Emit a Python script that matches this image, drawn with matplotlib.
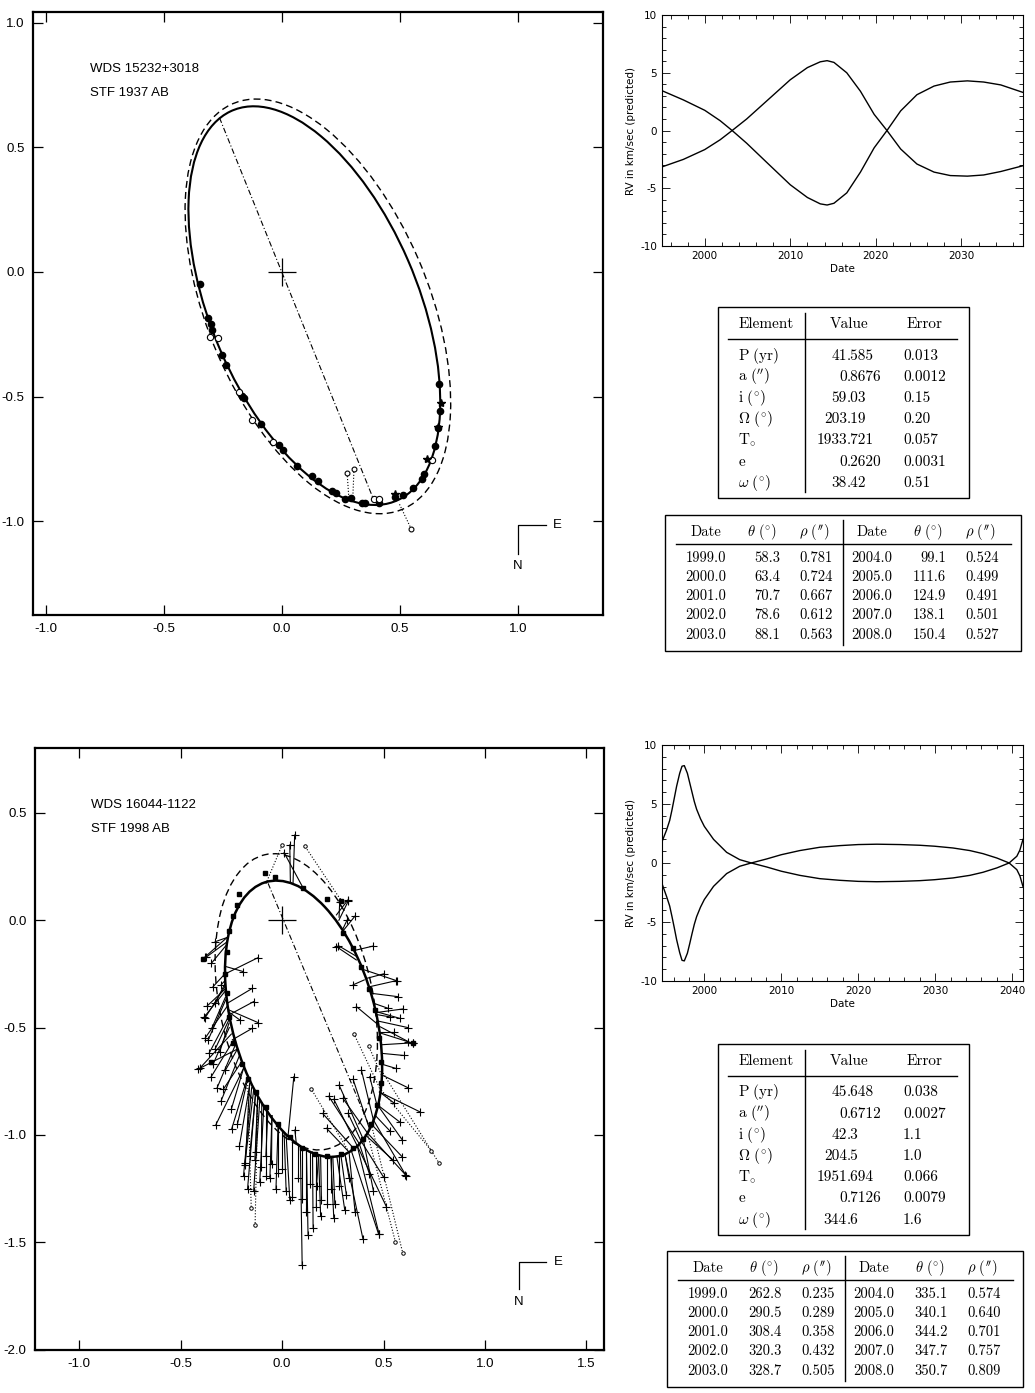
import numpy as np
import matplotlib.pyplot as plt
from matplotlib.patches import Ellipse, Rectangle
from matplotlib.ticker import MultipleLocator, FormatStrFormatter

plt.rcParams['font.family'] = ['Liberation Sans', 'DejaVu Sans']
plt.rcParams['mathtext.fontset'] = 'cm'
plt.rcParams['axes.unicode_minus'] = False

# ---------------- STF 1937 AB ----------------
wds1 = "WDS 15232+3018"
name1 = "STF 1937 AB"
# apparent ellipses: centre x, centre y, major, minor, angle
orb1_new = (0.137, -0.135, 1.713, 0.873, -65.4)
orb1_old = (0.152, -0.138, 1.779, 0.932, -65.4)
nodes1_x = [-0.265, 0.389]
nodes1_y = [0.619, -0.915]

t_dot_x = [-0.348, -0.315, -0.302, -0.296, -0.256, -0.236, -0.168, -0.160, -0.087, -0.013,
           0.003, 0.065, 0.129, 0.154, 0.213, 0.229, 0.268, 0.291, 0.338, 0.350,
           0.410, 0.477, 0.511, 0.556, 0.595, 0.603, 0.648, 0.660, 0.668, 0.665]
t_dot_y = [-0.050, -0.183, -0.208, -0.233, -0.333, -0.374, -0.496, -0.505, -0.611, -0.694,
           -0.715, -0.777, -0.820, -0.840, -0.877, -0.885, -0.910, -0.907, -0.927, -0.928,
           -0.928, -0.902, -0.894, -0.865, -0.832, -0.812, -0.699, -0.624, -0.557, -0.449]
t_open_x = [-0.273, -0.305, -0.181, -0.127, -0.039, 0.389, 0.410, 0.637]
t_open_y = [-0.266, -0.261, -0.483, -0.594, -0.682, -0.912, -0.912, -0.754]
t_star_x = [0.615, 0.673, 0.663, 0.480]
t_star_y = [-0.749, -0.524, -0.620, -0.890]
t_out_x = [0.276, 0.305, 0.548]
t_out_y = [-0.807, -0.790, -1.032]
t_outfit_x = [0.283, 0.300, 0.497]
t_outfit_y = [-0.905, -0.905, -0.930]

rv1_year = [1995.0, 1997.5, 2000.0, 2001.8, 2003.2, 2004.9, 2007.3, 2010.0, 2012.0, 2013.5,
            2014.3, 2015.1, 2016.6, 2018.2, 2019.8, 2021.3, 2022.9, 2024.8, 2026.8, 2028.7,
            2030.7, 2032.6, 2034.6, 2037.2]
rv1_a = [-3.15, -2.5, -1.65, -0.8, 0.0, 1.0, 2.6, 4.4, 5.45, 5.95,
         6.05, 5.9, 5.0, 3.4, 1.4, 0.0, -1.6, -2.9, -3.6, -3.9,
         -3.95, -3.85, -3.55, -3.05]
rv1_b = [3.45, 2.65, 1.75, 0.85, 0.0, -1.1, -2.8, -4.7, -5.8, -6.35,
         -6.45, -6.3, -5.4, -3.6, -1.5, 0.0, 1.7, 3.1, 3.85, 4.2,
         4.3, 4.2, 3.95, 3.3]

elem1_val = ['41.585', '0.8676', '59.03', '203.19', '1933.721', '0.2620', '38.42']
elem1_err = ['0.013', '0.0012', '0.15', '0.20', '0.057', '0.0031', '0.51']
eph1_date = ['1999.0', '2000.0', '2001.0', '2002.0', '2003.0',
             '2004.0', '2005.0', '2006.0', '2007.0', '2008.0']
eph1_theta = ['58.3', '63.4', '70.7', '78.6', '88.1', '99.1', '111.6', '124.9', '138.1', '150.4']
eph1_rho = ['0.781', '0.724', '0.667', '0.612', '0.563', '0.524', '0.499', '0.491', '0.501', '0.527']

# ---------------- STF 1998 AB ----------------
wds2 = "WDS 16044-1122"
name2 = "STF 1998 AB"
orb2_new = (0.106, -0.459, 1.327, 0.705, -73.4)
orb2_old = (0.070, -0.380, 1.405, 0.756, -77.2)
nodes2_x = [-0.069, 0.43]
nodes2_y = [0.172, -0.96]

b_obs_x = [0.062, 0.038, 0.010, -0.381, -0.348, -0.118, -0.192, -0.146, -0.140, -0.118,
           -0.146, -0.381, -0.364, -0.307, -0.209, -0.331, -0.340, 0.325, 0.284, 0.268,
           0.563, 0.571, 0.522, 0.366, 0.621, 0.580, 0.645, 0.350, -0.414, -0.327,
           -0.249, -0.290, -0.184, -0.134, -0.102, -0.080, -0.052, -0.020, 0.038, 0.058,
           0.099, 0.128, 0.153, 0.169, 0.194, 0.255, 0.309, 0.317, 0.399, 0.476,
           0.514, 0.613, 0.591, 0.678, 0.501, 0.547, 0.219, 0.281, 0.350, 0.391,
           0.432, 0.255, 0.325, 0.063, 0.608, 0.593, 0.620, 0.647, 0.598, 0.565,
           0.277, 0.326, -0.181, -0.405, -0.386, -0.376, 0.478, -0.380, -0.360, -0.340,
           -0.320, -0.300, -0.345, -0.190, -0.170, -0.110, -0.060, -0.130, 0.020, 0.050,
           0.120, 0.170, 0.220, 0.280, 0.550, 0.600, 0.560, 0.620, 0.530,
           -0.330, -0.300, -0.370, -0.350, -0.330, -0.280, -0.250, -0.220, -0.210, -0.160,
           -0.140, -0.080, -0.030, 0.000, 0.080, 0.100, 0.140, 0.190, 0.240, 0.260,
           0.330, 0.360, 0.430, 0.450, 0.530, 0.550, 0.580, 0.200, 0.230, 0.300,
           0.500, 0.450, 0.360, 0.320]
b_obs_y = [0.397, 0.351, 0.315, -0.172, -0.200, -0.174, -0.239, -0.317, -0.379, -0.477,
           -0.503, -0.457, -0.557, -0.612, -0.464, -0.387, -0.309, 0.095, 0.087, -0.123,
           -0.281, -0.356, -0.410, -0.402, -0.565, -0.457, -0.573, -0.301, -0.694, -0.954,
           -0.974, -0.788, -1.140, -1.117, -1.151, -1.191, -1.136, -1.176, -1.303, -0.729,
           -1.606, -1.466, -1.435, -1.334, -1.303, -1.389, -1.350, -1.280, -1.486, -1.463,
           -1.334, -1.191, -1.101, -0.892, -1.198, -1.117, -0.969, -0.768, -0.741, -0.698,
           -0.729, -0.834, -0.899, -0.977, -1.185, -1.024, -0.780, -0.571, -0.413, -0.281,
           -0.118, 0.089, -1.132, -0.689, -0.453, -0.173, -1.461, -0.550, -0.620, -0.670,
           -0.780, -0.840, -0.500, -1.190, -1.250, -1.220, -1.200, -1.080, -1.260, -1.290,
           -1.360, -1.240, -1.320, -1.240, -0.520, -0.630, -0.690, -0.500, -0.450,
           -0.100, -0.300, -0.400, -0.730, -0.600, -0.700, -0.880, -0.950, -1.050, -1.100,
           -1.260, -1.100, -1.250, -1.160, -1.200, -1.300, -1.230, -1.380, -1.250, -1.320,
           -1.200, -1.360, -1.180, -1.260, -0.980, -0.850, -0.940, -0.900, -0.820, -0.830,
           -0.250, -0.120, 0.020, 0.000]
b_fit_x = [0.054, 0.041, 0.104, -0.266, -0.274, -0.274, -0.276, -0.270, -0.262, -0.262,
           -0.245, -0.282, -0.278, -0.262, -0.265, -0.280, -0.282, 0.268, 0.281, 0.366,
           0.405, 0.437, 0.452, 0.465, 0.481, 0.465, 0.490, 0.405, -0.220, -0.190,
           -0.170, -0.200, -0.140, -0.120, -0.100, -0.080, -0.050, -0.020, 0.020, 0.030,
           0.090, 0.120, 0.150, 0.170, 0.190, 0.240, 0.270, 0.290, 0.310, 0.340,
           0.370, 0.420, 0.440, 0.480, 0.390, 0.410, 0.330, 0.400, 0.430, 0.450,
           0.470, 0.370, 0.390, 0.070, 0.450, 0.470, 0.490, 0.490, 0.465, 0.430,
           0.370, 0.280, -0.160, -0.250, -0.280, -0.270, 0.370, -0.270, -0.265, -0.260,
           -0.230, -0.210, -0.280, -0.150, -0.130, -0.090, -0.050, -0.120, 0.010, 0.050,
           0.120, 0.180, 0.220, 0.280, 0.480, 0.490, 0.490, 0.475, 0.470,
           -0.270, -0.280, -0.280, -0.240, -0.260, -0.220, -0.190, -0.170, -0.160, -0.130,
           -0.110, -0.070, -0.020, 0.000, 0.080, 0.100, 0.140, 0.180, 0.240, 0.250,
           0.310, 0.330, 0.380, 0.400, 0.460, 0.480, 0.470, 0.350, 0.380, 0.420,
           0.420, 0.360, 0.300, 0.300]
b_fit_y = [0.172, 0.172, 0.150, -0.076, -0.115, -0.247, -0.216, -0.387, -0.441, -0.418,
           -0.557, -0.309, -0.371, -0.480, -0.426, -0.293, -0.250, 0.025, 0.014, -0.185,
           -0.231, -0.340, -0.387, -0.480, -0.495, -0.426, -0.527, -0.278, -0.600, -0.690,
           -0.730, -0.660, -0.790, -0.820, -0.850, -0.880, -0.910, -0.960, -1.000, -1.000,
           -1.050, -1.070, -1.080, -1.090, -1.100, -1.100, -1.100, -1.095, -1.090, -1.070,
           -1.050, -0.990, -0.950, -0.800, -1.030, -1.000, -1.080, -1.020, -0.970, -0.930,
           -0.870, -1.050, -1.030, -1.040, -0.930, -0.860, -0.720, -0.580, -0.430, -0.310,
           -0.170, 0.000, -0.760, -0.530, -0.330, -0.100, -1.050, -0.400, -0.450, -0.500,
           -0.580, -0.630, -0.360, -0.780, -0.800, -0.860, -0.910, -0.820, -0.990, -1.020,
           -1.070, -1.095, -1.100, -1.100, -0.520, -0.620, -0.670, -0.470, -0.440,
           -0.080, -0.280, -0.320, -0.560, -0.460, -0.600, -0.690, -0.740, -0.770, -0.800,
           -0.840, -0.890, -0.960, -0.980, -1.050, -1.060, -1.080, -1.095, -1.100, -1.100,
           -1.090, -1.080, -1.040, -1.020, -0.910, -0.800, -0.860, -1.060, -1.040, -0.990,
           -0.270, -0.140, -0.050, -0.040]

b_sq_x = [-0.085, -0.036, 0.104, -0.21, -0.22, -0.24, -0.26, -0.39, -0.27, -0.28,
          -0.27, -0.26, -0.35, -0.24, -0.20, -0.17, -0.13, -0.08, -0.02, 0.04,
          0.10, 0.16, 0.22, 0.29, 0.35, 0.40, 0.44, 0.47, 0.49, 0.49,
          0.48, 0.46, 0.43, 0.39, 0.35, 0.30, 0.29, 0.22, 0.645]
b_sq_y = [0.219, 0.203, 0.149, 0.12, 0.07, 0.02, -0.05, -0.18, -0.15, -0.25,
          -0.34, -0.45, -0.66, -0.57, -0.67, -0.74, -0.80, -0.87, -0.95, -1.01,
          -1.06, -1.09, -1.10, -1.09, -1.06, -1.02, -0.95, -0.86, -0.76, -0.66,
          -0.55, -0.42, -0.32, -0.22, -0.13, -0.06, 0.09, 0.10, -0.573]

b_dob_x = [0.000, 0.112, -0.152, -0.133, 0.559, 0.595, 0.735, 0.774, 0.355, 0.427, 0.145]
b_dob_y = [0.350, 0.346, -1.339, -1.421, -1.500, -1.551, -1.073, -1.132, -0.531, -0.587, -0.788]
b_dfit_x = [-0.080, 0.287, -0.170, -0.120, 0.420, 0.440, 0.480, 0.490, 0.480, 0.490, 0.330]
b_dfit_y = [0.170, 0.098, -0.740, -0.830, -0.990, -0.950, -0.780, -0.700, -0.780, -0.720, -1.080]

rv2_year = [1994.5, 1995.1, 1995.5, 1995.8, 1996.1, 1996.4, 1996.8, 1997.1, 1997.4, 1997.8,
            1998.1, 1998.4, 1998.7, 1999.0, 1999.5, 2000.0, 2001.2, 2002.9, 2004.6, 2006.1,
            2008.1, 2010.0, 2012.4, 2015.0, 2017.6, 2020.0, 2022.4, 2025.4, 2028.0, 2029.9,
            2032.3, 2034.5, 2036.2, 2038.0, 2039.6, 2040.6, 2041.0, 2041.4]
rv2_a = [1.8, 2.8, 3.6, 4.5, 5.5, 6.5, 7.6, 8.2, 8.25, 7.6,
         6.8, 6.0, 5.2, 4.55, 3.75, 3.1, 2.0, 0.9, 0.28, 0.0,
         -0.34, -0.7, -1.05, -1.33, -1.47, -1.56, -1.59, -1.56, -1.5, -1.42,
         -1.27, -1.05, -0.79, -0.42, 0.0, 0.57, 1.1, 2.0]
rv2_b = [-1.75, -2.85, -3.65, -4.55, -5.5, -6.5, -7.6, -8.25, -8.3, -7.65,
         -6.85, -6.0, -5.2, -4.55, -3.75, -3.1, -1.98, -0.9, -0.28, 0.0,
         0.34, 0.7, 1.05, 1.33, 1.47, 1.56, 1.59, 1.56, 1.5, 1.42,
         1.27, 1.05, 0.79, 0.42, 0.0, -0.57, -1.1, -2.0]

elem2_val = ['45.648', '0.6712', '42.3', '204.5', '1951.694', '0.7126', '344.6']
elem2_err = ['0.038', '0.0027', '1.1', '1.0', '0.066', '0.0079', '1.6']
eph2_date = eph1_date
eph2_theta = ['262.8', '290.5', '308.4', '320.3', '328.7', '335.1', '340.1', '344.2', '347.7', '350.7']
eph2_rho = ['0.235', '0.289', '0.358', '0.432', '0.505', '0.574', '0.640', '0.701', '0.757', '0.809']

elem_labels = [r'$\mathrm{P\ (yr)}$', r'$\mathrm{a}\ (^{\prime\prime})$', r'$\mathrm{i}\ (^{\circ})$',
               r'$\Omega\ (^{\circ})$', r'$\mathrm{T}_{\circ}$', r'$\mathrm{e}$',
               r'$\omega\ (^{\circ})$']

fig = plt.figure(figsize=(10.35, 13.93), dpi=100)


def orbit_axes(rect, xlim, ylim, xticks, yticks):
    ax = fig.add_axes(rect)
    ax.set_xlim(xlim)
    ax.set_ylim(ylim)
    ax.set_xticks(xticks)
    ax.set_yticks(yticks)
    ax.xaxis.set_major_formatter(FormatStrFormatter('%.1f'))
    ax.yaxis.set_major_formatter(FormatStrFormatter('%.1f'))
    ax.tick_params(direction='in', top=True, right=True, length=7, width=0.9,
                   labelsize=9.5, pad=6)
    for s in ax.spines.values():
        s.set_linewidth(1.6)
    return ax


def draw_ellipse(ax, e, **kw):
    ax.add_patch(Ellipse((e[0], e[1]), e[2], e[3], angle=e[4], fill=False, color='k', **kw))


def rv_axes(rect, xlim, year, a, b, xmaj):
    ax = fig.add_axes(rect)
    ax.plot(year, a, color='k', lw=1.0)
    ax.plot(year, b, color='k', lw=1.0)
    ax.set_xlim(xlim)
    ax.set_ylim(-10, 10)
    ax.xaxis.set_major_locator(MultipleLocator(xmaj))
    ax.xaxis.set_minor_locator(MultipleLocator(2))
    ax.yaxis.set_major_locator(MultipleLocator(5))
    ax.yaxis.set_minor_locator(MultipleLocator(1))
    ax.tick_params(which='both', direction='in', top=True, right=True, width=0.6,
                   labelsize=7.5)
    ax.tick_params(which='major', length=6)
    ax.tick_params(which='minor', length=3)
    for lab in ax.get_xticklabels() + ax.get_yticklabels():
        lab.set_family('DejaVu Sans')
    ax.set_xlabel('Date', fontsize=7.5, family='DejaVu Sans', labelpad=2)
    ax.set_ylabel('RV in km/sec (predicted)', fontsize=7.5, family='DejaVu Sans', labelpad=3)
    for s in ax.spines.values():
        s.set_linewidth(0.8)
    return ax


def compass(ax, x0, y0, dx, dy, ex, ny):
    ax.plot([x0 + dx, x0, x0], [y0, y0, y0 - dy], color='k', lw=0.9)
    ax.text(ex, y0, 'E', fontsize=9.5, ha='center', va='center')
    ax.text(x0, ny, 'N', fontsize=9.5, ha='center', va='center')


# ---- top orbit
ax1 = orbit_axes([0.0319, 0.5585, 0.5507, 0.4329], (-1.055, 1.36), (-1.376, 1.043),
                 [-1.0, -0.5, 0.0, 0.5, 1.0], [-1.0, -0.5, 0.0, 0.5, 1.0])
draw_ellipse(ax1, orb1_old, lw=1.0, ls=(0, (5, 3)))
draw_ellipse(ax1, orb1_new, lw=1.5)
ax1.plot(nodes1_x, nodes1_y, color='k', lw=0.8, ls=(0, (5, 2, 1, 2)))
ax1.plot([0], [0], marker='+', ms=20, mew=0.9, color='k')
for i in range(len(t_out_x)):
    ax1.plot([t_out_x[i], t_outfit_x[i]], [t_out_y[i], t_outfit_y[i]], color='k', lw=0.8, ls=':')
ax1.plot(t_out_x, t_out_y, 'o', ms=3.5, mfc='white', mec='k', mew=0.8)
ax1.plot(t_dot_x, t_dot_y, 'o', ms=4.5, color='k')
ax1.plot(t_open_x, t_open_y, 'o', ms=4.5, mfc='white', mec='k', mew=0.8)
ax1.plot(t_star_x, t_star_y, '*', ms=6, color='k')
ax1.text(0.10, 0.906, wds1, transform=ax1.transAxes, fontsize=9.5, va='center')
ax1.text(0.10, 0.866, name1, transform=ax1.transAxes, fontsize=9.5, va='center')
compass(ax1, 1.0, -1.015, 0.117, 0.116, 1.165, -1.18)

# ---- bottom orbit
ax2 = orbit_axes([0.0338, 0.0309, 0.5498, 0.4322], (-1.218, 1.587), (-2.002, 0.803),
                 [-1.0, -0.5, 0.0, 0.5, 1.0, 1.5], [-2.0, -1.5, -1.0, -0.5, 0.0, 0.5])
draw_ellipse(ax2, orb2_old, lw=1.0, ls=(0, (5, 3)))
draw_ellipse(ax2, orb2_new, lw=1.8)
ax2.plot(nodes2_x, nodes2_y, color='k', lw=0.8, ls=(0, (5, 2, 1, 2)))
ax2.plot([0], [0], marker='+', ms=20, mew=0.9, color='k')
ax2.plot(np.vstack([b_fit_x, b_obs_x]), np.vstack([b_fit_y, b_obs_y]), color='k', lw=0.8)
ax2.plot(b_obs_x, b_obs_y, '+', ms=5.5, mew=0.8, color='k')
ax2.plot(np.vstack([b_dfit_x, b_dob_x]), np.vstack([b_dfit_y, b_dob_y]), color='k', lw=0.8, ls=':')
ax2.plot(b_dob_x, b_dob_y, 'o', ms=2.5, mfc='white', mec='k', mew=0.7)
ax2.plot(b_sq_x, b_sq_y, 's', ms=3.2, color='k')
ax2.text(0.098, 0.905, wds2, transform=ax2.transAxes, fontsize=9.5, va='center')
ax2.text(0.098, 0.865, name2, transform=ax2.transAxes, fontsize=9.5, va='center')
compass(ax2, 1.168, -1.59, 0.132, 0.13, 1.36, -1.78)

# ---- radial velocity curves
rv_axes([0.6396, 0.8234, 0.3488, 0.1658], (1995.0, 2037.2), rv1_year, rv1_a, rv1_b, 10)
rv_axes([0.6396, 0.2958, 0.3488, 0.1694], (1994.5, 2041.4), rv2_year, rv2_a, rv2_b, 10)

# ---- tables (drawn in pixel space)
tab = fig.add_axes([0, 0, 1, 1])
tab.set_xlim(0, 1035)
tab.set_ylim(1393, 0)
tab.axis('off')
FS = 11
CM = 'cmr10'


def element_table(left, top, values, errors):
    tab.add_patch(Rectangle((left, top), 251, 191, fill=False, ec='k', lw=1.0))
    tab.plot([left + 87, left + 87], [top + 6, top + 185], color='k', lw=1.0)
    tab.plot([left + 10, left + 239], [top + 32, top + 32], color='k', lw=1.0)
    hy = top + 21
    tab.text(left + 48, hy, 'Element', family=CM, fontsize=FS, ha='center', va='baseline')
    tab.text(left + 131, hy, 'Value', family=CM, fontsize=FS, ha='center', va='baseline')
    tab.text(left + 207, hy, 'Error', family=CM, fontsize=FS, ha='center', va='baseline')
    for k in range(len(values)):
        y = top + 52.5 + 21.2 * k
        whole, frac = values[k].split('.')
        tab.text(left + 20, y, elem_labels[k], fontsize=FS, ha='left', va='baseline')
        tab.text(left + 129, y, whole, family=CM, fontsize=FS, ha='right', va='baseline')
        tab.text(left + 129, y, '.' + frac, family=CM, fontsize=FS, ha='left', va='baseline')
        tab.text(left + 185, y, errors[k], family=CM, fontsize=FS, ha='left', va='baseline')


def ephem_table(left, top, dates, theta, rho):
    fs = 10.5
    tab.add_patch(Rectangle((left, top), 356, 136, fill=False, ec='k', lw=1.0))
    tab.plot([left + 178, left + 178], [top + 5, top + 130], color='k', lw=1.0)
    tab.plot([left + 11, left + 346], [top + 29, top + 29], color='k', lw=1.0)
    hy = top + 20.5
    for off in (0, 166):
        tab.text(left + 41 + off, hy, 'Date', family=CM, fontsize=fs, ha='center', va='baseline')
        tab.text(left + 97 + off, hy, r'$\theta\ (^{\circ})$', fontsize=fs, ha='center', va='baseline')
        tab.text(left + 149 + off, hy, r'$\rho\ (^{\prime\prime})$', fontsize=fs, ha='center', va='baseline')
    for k in range(len(dates)):
        off = 0 if k < 5 else 166
        y = top + 46.5 + 19.3 * (k % 5)
        tab.text(left + 41 + off, y, dates[k], family=CM, fontsize=fs, ha='center', va='baseline')
        tab.text(left + 115 + off, y, theta[k], family=CM, fontsize=fs, ha='right', va='baseline')
        tab.text(left + 168 + off, y, rho[k], family=CM, fontsize=fs, ha='right', va='baseline')


element_table(718, 307, elem1_val, elem1_err)
ephem_table(665, 515, eph1_date, eph1_theta, eph1_rho)
element_table(718, 1044, elem2_val, elem2_err)
ephem_table(667, 1251, eph2_date, eph2_theta, eph2_rho)

fig.savefig('out.png', dpi=100)
